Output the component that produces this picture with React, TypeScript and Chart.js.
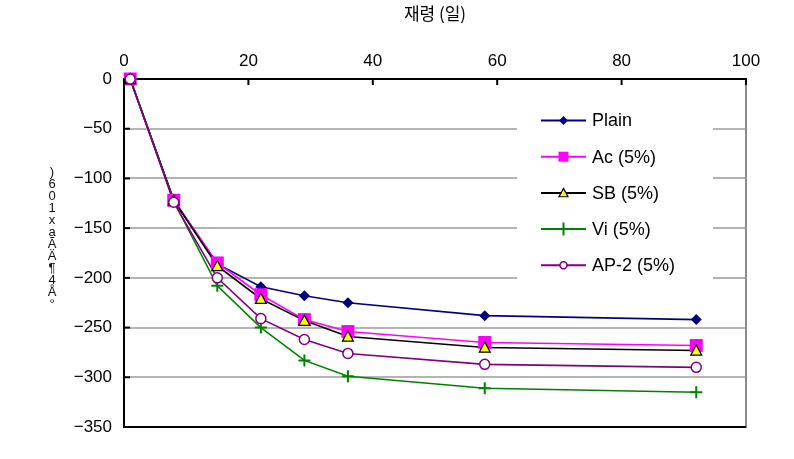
import React, { useEffect, useRef } from 'react';
import { Chart, registerables } from 'chart.js';

Chart.register(...registerables);

// ---- data ----
const days = [1, 8, 15, 22, 29, 36, 58, 92];
const plain = [0, -122, -186, -209, -218, -225, -238, -242];
const ac = [0, -122, -185, -217, -242, -254, -265, -268];
const sb = [0, -122, -188, -221, -243, -259, -270, -273];
const vi = [0, -123, -208, -250, -283, -299, -311, -315];
const ap2 = [0, -124, -200, -241, -262, -276, -287, -290];
const seriesNames = ['Plain', 'Ac (5%)', 'SB (5%)', 'Vi (5%)', 'AP-2 (5%)'];
const xTickValues = [0, 20, 40, 60, 80, 100];
const yTickValues = [0, -50, -100, -150, -200, -250, -300, -350];
const xTitle = '재령 (일)';
const yTitleChars = [')', '6', '0', '1', 'x', 'a', 'Ã', 'Ä', '¶', '4', 'Å', '°'];

const FONT = '"Liberation Sans", Arial, sans-serif';

type Style = { color: string; fill: string; shape: string; r: number; lr: number };
const styles: Style[] = [
  { color: '#000080', fill: '#000080', shape: 'diamond', r: 5.5, lr: 4.5 },
  { color: '#FF00FF', fill: '#FF00FF', shape: 'square', r: 6.5, lr: 5 },
  { color: '#000000', fill: '#FFFF00', shape: 'triangle', r: 5.5, lr: 4.5 },
  { color: '#008000', fill: '#008000', shape: 'plus', r: 6, lr: 6.5 },
  { color: '#800080', fill: '#FFFFFF', shape: 'circle', r: 5, lr: 3.5 },
];

function drawMarker(ctx: CanvasRenderingContext2D, s: Style, x: number, y: number, r: number) {
  ctx.save();
  ctx.lineWidth = 1.5;
  ctx.strokeStyle = s.color;
  ctx.fillStyle = s.fill;
  ctx.beginPath();
  if (s.shape === 'diamond') {
    ctx.moveTo(x, y - r); ctx.lineTo(x + r, y); ctx.lineTo(x, y + r); ctx.lineTo(x - r, y); ctx.closePath();
    ctx.fill();
  } else if (s.shape === 'square') {
    ctx.rect(x - r, y - r, 2 * r, 2 * r);
    ctx.fill();
  } else if (s.shape === 'triangle') {
    ctx.moveTo(x, y - r); ctx.lineTo(x + r, y + r * 0.85); ctx.lineTo(x - r, y + r * 0.85); ctx.closePath();
    ctx.fill();
    ctx.strokeStyle = '#000';
    ctx.lineWidth = 1.2;
    ctx.stroke();
  } else if (s.shape === 'plus') {
    ctx.moveTo(x, y - r); ctx.lineTo(x, y + r);
    ctx.moveTo(x - r, y); ctx.lineTo(x + r, y);
    ctx.lineWidth = 2;
    ctx.stroke();
  } else if (s.shape === 'circle') {
    ctx.arc(x, y, r, 0, Math.PI * 2);
    ctx.fill();
    ctx.stroke();
  }
  ctx.restore();
}

const decor = {
  id: 'decor',
  beforeDatasetsDraw(chart: any) {
    const { ctx, chartArea: a } = chart;
    const ys = chart.scales.y;
    ctx.save();
    ctx.strokeStyle = '#8c8c8c';
    ctx.lineWidth = 2;
    ctx.beginPath();
    ctx.moveTo(a.right, a.top);
    ctx.lineTo(a.right, a.bottom + 1);
    ctx.stroke();
    ctx.strokeStyle = '#000';
    ctx.beginPath();
    ctx.moveTo(a.left, a.bottom);
    ctx.lineTo(a.right, a.bottom);
    ctx.stroke();
    // inward y ticks
    yTickValues.forEach((v) => {
      const py = ys.getPixelForValue(v);
      ctx.beginPath();
      ctx.moveTo(a.left, py);
      ctx.lineTo(a.left + 6, py);
      ctx.stroke();
    });
    ctx.restore();
  },
  afterDatasetsDraw(chart: any) {
    const { ctx, chartArea: a } = chart;
    const xs = chart.scales.x;
    const ys = chart.scales.y;
    const all = [plain, ac, sb, vi, ap2];
    all.forEach((vals, i) => {
      vals.forEach((v, j) => {
        drawMarker(ctx, styles[i], xs.getPixelForValue(days[j]), ys.getPixelForValue(v), styles[i].r);
      });
    });
    ctx.save();
    ctx.strokeStyle = '#000';
    ctx.lineWidth = 2;
    xTickValues.forEach((v) => {
      const px = xs.getPixelForValue(v);
      ctx.beginPath();
      ctx.moveTo(px, a.top);
      ctx.lineTo(px, a.top + 6);
      ctx.stroke();
    });
    // x title
    ctx.fillStyle = '#000';
    ctx.font = '17px "Noto Sans CJK KR", sans-serif';
    ctx.textAlign = 'center';
    ctx.textBaseline = 'middle';
    ctx.fillText(xTitle, (a.left + a.right) / 2, 14);
    // y title (stacked glyphs)
    ctx.font = '13px ' + FONT;
    ctx.fillStyle = '#111';
    yTitleChars.forEach((c, k) => {
      ctx.fillText(c, 52, 172 + k * 12);
    });
    // legend
    ctx.fillStyle = '#fff';
    ctx.fillRect(517, 98, 196, 189);
    seriesNames.forEach((name, i) => {
      const y = 120.5 + i * 36.2;
      const s = styles[i];
      ctx.strokeStyle = s.color;
      ctx.lineWidth = 2;
      ctx.beginPath();
      ctx.moveTo(541, y);
      ctx.lineTo(586, y);
      ctx.stroke();
      drawMarker(ctx, s, 563.5, y, s.lr);
      ctx.fillStyle = '#000';
      ctx.font = '18px ' + FONT;
      ctx.textAlign = 'left';
      ctx.textBaseline = 'middle';
      ctx.fillText(name, 592, y + 1);
    });
    ctx.restore();
  },
};

export default function App() {
  const ref = useRef<HTMLCanvasElement | null>(null);
  useEffect(() => {
    document.body.style.margin = '0';
    const canvas = ref.current!;
    const mk = (vals: number[]) => vals.map((v, j) => ({ x: days[j], y: v }));
    const chart = new Chart(canvas, {
      type: 'line',
      data: {
        datasets: [plain, ac, sb, vi, ap2].map((vals, i) => ({
          label: seriesNames[i],
          data: mk(vals),
          borderColor: styles[i].color,
          backgroundColor: styles[i].fill,
          borderWidth: 1.6,
          pointRadius: 0,
          fill: false,
          tension: 0,
          order: 5 - i,
        })),
      },
      options: {
        animation: false,
        responsive: false,
        devicePixelRatio: 1,
        layout: { padding: { left: 0, right: 48, top: 0, bottom: 32 } },
        plugins: { legend: { display: false }, tooltip: { enabled: false } },
        scales: {
          x: {
            type: 'linear',
            position: 'top',
            min: 0,
            max: 100,
            afterFit: (s: any) => { s.height = 79; },
            afterBuildTicks: (s: any) => { s.ticks = xTickValues.map((v) => ({ value: v })); },
            ticks: { color: '#000', font: { family: FONT, size: 17 }, padding: 7, maxRotation: 0 },
            grid: { display: false, drawTicks: false },
            border: { display: true, color: '#000', width: 2 },
          },
          y: {
            type: 'linear',
            min: -350,
            max: 0,
            afterFit: (s: any) => { s.width = 124; },
            afterBuildTicks: (s: any) => { s.ticks = yTickValues.map((v) => ({ value: v })); },
            ticks: {
              color: '#000',
              font: { family: FONT, size: 17 },
              padding: 12,
              callback: (v: any) => (Number(v) < 0 ? '\u2212' + Math.abs(Number(v)) : String(v)),
            },
            grid: {
              color: '#b4b4b4',
              lineWidth: 2,
              drawTicks: false,
            },
            border: { display: true, color: '#000', width: 2 },
          },
        },
      },
      plugins: [decor],
    });
    return () => chart.destroy();
  }, []);
  return (
    <div style={{ width: 794, height: 459, background: '#fff' }}>
      <canvas ref={ref} width={794} height={459} />
    </div>
  );
}
